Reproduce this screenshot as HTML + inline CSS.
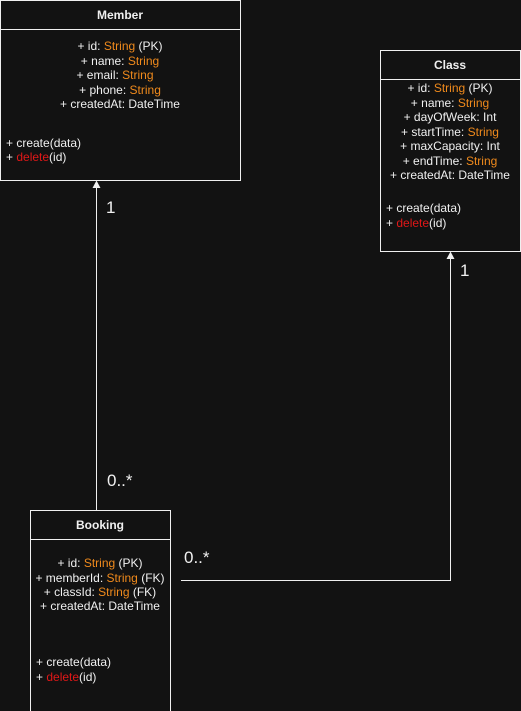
<!DOCTYPE html>
<html><head><meta charset="utf-8"><style>
html,body{margin:0;padding:0;background:#121212;}
svg{display:block;}
text{font-family:"Liberation Sans",Arial,sans-serif;font-size:12px;fill:#f0f0f0;}
.o{fill:#f08a1c;}
.r{fill:#e01818;}
.b{font-weight:bold;}
.m{font-size:17px;}
</style></head><body>
<svg width="521" height="711" viewBox="0 0 521 711" xmlns="http://www.w3.org/2000/svg">
<rect x="0" y="0" width="521" height="711" fill="#121212"/>
<g fill="none" stroke="#f0f0f0" stroke-width="1">
<rect x="0.5" y="0.5" width="240" height="180"/>
<line x1="0.5" y1="29.5" x2="240.5" y2="29.5"/>
<rect x="380.5" y="50.5" width="140" height="201"/>
<line x1="380.5" y1="79.5" x2="520.5" y2="79.5"/>
<rect x="30.5" y="510.5" width="140" height="201"/>
<line x1="30.5" y1="539.5" x2="170.5" y2="539.5"/>
<line x1="96.5" y1="510" x2="96.5" y2="186"/>
<polyline points="181,580.5 450.5,580.5 450.5,257"/>
</g>
<polygon points="96.5,180.5 92.5,188 100.5,188" fill="#f0f0f0"/>
<polygon points="450.5,251.5 446.5,259 454.5,259" fill="#f0f0f0"/>

<text x="120" y="19" text-anchor="middle" class="b">Member</text>
<g text-anchor="middle">
<text x="120" y="50">+ id: <tspan class="o">String</tspan> (PK)</text>
<text x="120" y="65">+ name: <tspan class="o">String</tspan></text>
<text x="115" y="79">+ email: <tspan class="o">String</tspan></text>
<text x="120" y="94">+ phone: <tspan class="o">String</tspan></text>
<text x="120" y="108">+ createdAt: DateTime</text>
</g>
<text x="6" y="147">+ create(data)</text>
<text x="6" y="161">+ <tspan class="r">delete</tspan>(id)</text>

<text x="450" y="69" text-anchor="middle" class="b">Class</text>
<g text-anchor="middle">
<text x="450" y="92">+ id: <tspan class="o">String</tspan> (PK)</text>
<text x="450" y="107">+ name: <tspan class="o">String</tspan></text>
<text x="450" y="121">+ dayOfWeek: Int</text>
<text x="450" y="136">+ startTime: <tspan class="o">String</tspan></text>
<text x="450" y="150">+ maxCapacity: Int</text>
<text x="450" y="165">+ endTime: <tspan class="o">String</tspan></text>
<text x="450" y="179">+ createdAt: DateTime</text>
</g>
<text x="386" y="212">+ create(data)</text>
<text x="386" y="227">+ <tspan class="r">delete</tspan>(id)</text>

<text x="100" y="529" text-anchor="middle" class="b">Booking</text>
<g text-anchor="middle">
<text x="100" y="567">+ id: <tspan class="o">String</tspan> (PK)</text>
<text x="100" y="582">+ memberId: <tspan class="o">String</tspan> (FK)</text>
<text x="100" y="596">+ classId: <tspan class="o">String</tspan> (FK)</text>
<text x="100" y="610">+ createdAt: DateTime</text>
</g>
<text x="36" y="666">+ create(data)</text>
<text x="36" y="681">+ <tspan class="r">delete</tspan>(id)</text>

<text x="106" y="213" class="m">1</text>
<text x="460" y="276" class="m">1</text>
<text x="107" y="486" class="m">0..*</text>
<text x="184" y="563" class="m">0..*</text>
</svg>
</body></html>
